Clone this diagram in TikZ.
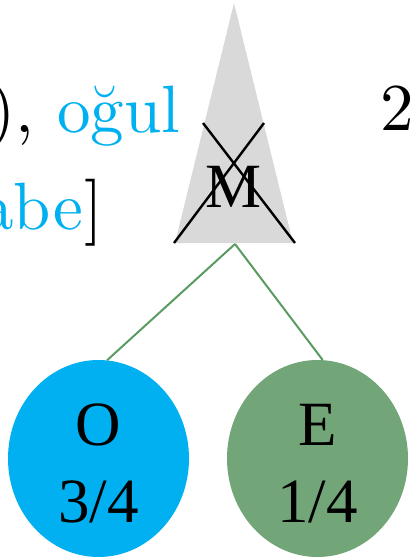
\documentclass[tikz,border=0pt]{standalone}
\usepackage{fontspec}
\setmainfont{Liberation Serif}
\newfontfamily\lmfont{lmroman10-regular.otf}
\usetikzlibrary{shapes.geometric}
\definecolor{cyanA}{HTML}{00B0F0}
\definecolor{greenA}{HTML}{72A577}
\definecolor{lineG}{HTML}{5A9B62}
\definecolor{grayA}{HTML}{D9D9D9}
\begin{document}
\begin{tikzpicture}[x=1pt,y=-1pt,
  big/.style={font=\fontsize{63}{75}\selectfont, inner sep=0pt},
  topt/.style={font=\lmfont\fontsize{67}{80}\selectfont, inner sep=0pt},
  leaf/.style={ellipse, minimum width=181pt, minimum height=197pt, inner sep=0pt},
  link/.style={draw=lineG, line width=2pt},
  cross/.style={draw=black, line width=2.4pt}]
\useasboundingbox (0,0) rectangle (419,559);
\clip (0,0) rectangle (419,559);
% top-left text
\node[topt, anchor=base west, text=cyanA] (ogul) at (57,132) {oğul};
\node[topt, anchor=base east] (par) at (34,132) {),};
\node[topt, anchor=base east, text=cyanA] (abe) at (83,229) {abe};
\node[topt, anchor=base west] (brk) at (84,229) {]};
\node[topt, anchor=base west] (two) at (380,130) {2};
% triangle
\coordinate (apex) at (234,3);
\coordinate (bl) at (175,243);
\coordinate (br) at (293,243);
\coordinate (mb) at (235,244);
\fill[grayA] (apex) -- (br) -- (bl) -- cycle;
\node[big, anchor=base] (M) at (234,207) {M};
\coordinate (c1) at (203,123);
\coordinate (c2) at (295,243);
\coordinate (c3) at (264,123);
\coordinate (c4) at (174,243);
\draw[cross] (c1) -- (c2);
\draw[cross] (c3) -- (c4);
% leaves
\node[leaf, fill=cyanA] (O) at (98.5,458.5) {};
\node[leaf, fill=greenA] (E) at (317.5,458.5) {};
\node[big, anchor=base] (Ot) at (98.5,445) {O};
\node[big, anchor=base] (Of) at (98.5,522) {3/4};
\node[big, anchor=base] (Et) at (317.5,445) {E};
\node[big, anchor=base] (Ef) at (317.5,522) {1/4};
\draw[link] (mb) -- (O.85);
\draw[link] (mb) -- (E.87);
\end{tikzpicture}
\end{document}
